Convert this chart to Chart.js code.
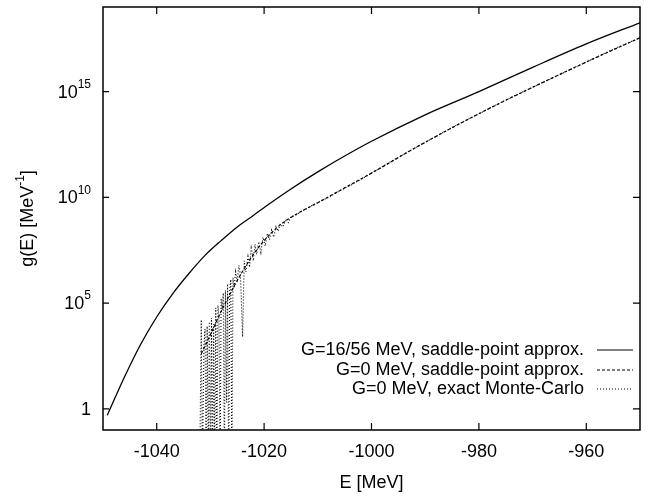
<!DOCTYPE html>
<html>
<head>
<meta charset="utf-8">
<script src="https://cdn.jsdelivr.net/npm/chart.js@4.4.0/dist/chart.umd.min.js"></script>
<style>
    html, body { margin: 0; padding: 0; background: #fff; }
</style>
</head>
<body>
<canvas id="dosChart" width="649" height="499"></canvas>
<script>
// Energy axis ticks and log-axis ticks
const xTicks = [-1040, -1020, -1000, -980, -960];
const yTicks = [1, 1e5, 1e10, 1e15];
const yTickLabels = [['1', ''], ['10', '5'], ['10', '10'], ['10', '15']];

// G=16/56 MeV, saddle-point approx.
const pairingE = [-1049.2, -1046, -1043, -1040, -1037, -1034, -1031, -1028, -1025, -1022, -1019, -1015, -1010, -1005, -1000, -990, -980, -970, -960, -950];
const pairingG = [0.5, 32, 1.1e3, 2.2e4, 2.8e5, 2.5e6, 1.8e7, 9e7, 4e8, 1.4e9, 5e9, 2.5e10, 1.6e11, 9e11, 4.5e12, 8e13, 1e15, 1.4e16, 1.8e17, 1.8e18];

// G=0 MeV, saddle-point approx.
const saddleE = [-1031.7, -1030, -1028, -1026, -1024, -1022, -1020, -1017, -1014, -1010, -1005, -1000, -990, -980, -970, -960, -950];
const saddleG = [4e2, 3.2e3, 4e4, 4e5, 3.2e6, 2e7, 9e7, 5e8, 1.6e9, 5.6e9, 2.8e10, 1.4e11, 4e12, 9e13, 1.6e15, 2.5e16, 3.5e17];

// G=0 MeV, exact Monte-Carlo (empty bins drop below the axis)
const mcE = [-1032.0, -1031.7, -1031.5, -1031.2, -1031.0, -1030.8, -1030.6, -1030.4, -1030.2, -1030.0,
    -1029.8, -1029.6, -1029.4, -1029.2, -1029.0, -1028.8, -1028.6, -1028.4, -1028.2, -1028.0,
    -1027.8, -1027.6, -1027.4, -1027.2, -1027.0, -1026.8, -1026.6, -1026.4, -1026.2, -1026.0,
    -1025.8, -1025.6, -1025.3, -1025.0, -1024.7, -1024.4, -1024.0, -1023.7, -1023.4, -1023.0,
    -1022.7, -1022.4, -1022.0, -1021.7, -1021.4, -1021.0, -1020.6, -1020.2, -1019.8, -1019.4,
    -1019.0, -1018.6, -1018.2, -1017.8, -1017.4, -1017.0, -1016.5, -1016.0, -1015.5, -1015.0,
    -1014.0, -1013.0, -1012.0, -1011.0, -1010.0, -1008.0, -1006.0, -1004.0, -1002.0, -1000.0,
    -995, -990, -985, -980, -975, -970, -965, -960, -955, -950];
const mcG = [1e-3, 1.6e4, 1e-3, 1e3, 6e3, 1e-3, 8e3, 1e-3, 1.3e4, 1e-3,
    2e4, 1e-3, 1e4, 1e-3, 6e4, 1e-3, 8e4, 2.5e4, 1e-3, 1.6e5,
    5e4, 3e5, 1e-3, 4e5, 2, 8e5, 1e-3, 4e5, 1.3e6, 1e-3,
    1.6e6, 5e5, 3e6, 1e6, 6e6, 2e6, 2.5e3, 1e7, 3e6, 1.6e7,
    5e6, 4e7, 1e7, 6e7, 2e7, 8e7, 2.5e7, 1.3e8, 5e7, 2e8,
    1e8, 2.8e8, 1.3e8, 4e8, 2.5e8, 5.6e8, 4e8, 8e8, 6.3e8, 1.2e9,
    1.5e9, 2.2e9, 3e9, 4.2e9, 5.6e9, 1e10, 2e10, 3.6e10, 7e10, 1.4e11,
    8e11, 4e12, 2e13, 9e13, 4e14, 1.6e15, 6.3e15, 2.5e16, 1e17, 3.5e17];

const legendLabels = ['G=16/56 MeV, saddle-point approx.', 'G=0 MeV, saddle-point approx.', 'G=0 MeV, exact Monte-Carlo'];

const FONT = '"Liberation Sans", Arial, Helvetica, sans-serif';
const BIG = '18px ' + FONT;
const SMALL = '12px ' + FONT;

function toPoints(xs, ys) {
    return xs.map((x, i) => ({ x: x, y: ys[i] }));
}

// gnuplot-like frame: box, inward ticks, superscript labels, legend
const framePlugin = {
    id: 'frame',
    afterDraw(chart) {
        const ctx = chart.ctx;
        const area = chart.chartArea;
        const xs = chart.scales.x;
        const ys = chart.scales.y;
        ctx.save();
        ctx.strokeStyle = '#000';
        ctx.fillStyle = '#000';
        ctx.lineWidth = 1.5;
        ctx.strokeRect(area.left, area.top, area.right - area.left, area.bottom - area.top);

        ctx.lineWidth = 1.2;
        ctx.beginPath();
        xTicks.forEach(v => {
            const px = xs.getPixelForValue(v);
            ctx.moveTo(px, area.bottom); ctx.lineTo(px, area.bottom - 7);
            ctx.moveTo(px, area.top); ctx.lineTo(px, area.top + 7);
        });
        yTicks.forEach(v => {
            const py = ys.getPixelForValue(v);
            ctx.moveTo(area.left, py); ctx.lineTo(area.left + 6, py);
            ctx.moveTo(area.right, py); ctx.lineTo(area.right - 7, py);
        });
        ctx.stroke();

        // y tick labels with superscript exponents
        ctx.textBaseline = 'middle';
        ctx.textAlign = 'right';
        yTicks.forEach((v, i) => {
            const py = ys.getPixelForValue(v) + 1;
            const [base, exp] = yTickLabels[i];
            let right = 91;
            if (exp) {
                ctx.font = SMALL;
                ctx.fillText(exp, right, py - 8);
                right -= ctx.measureText(exp).width;
            }
            ctx.font = BIG;
            ctx.fillText(base, right, py);
        });

        // y axis title, rotated, with superscript
        ctx.save();
        ctx.translate(28, (area.top + area.bottom) / 2);
        ctx.rotate(-Math.PI / 2);
        ctx.textAlign = 'left';
        ctx.font = BIG;
        const t1 = 'g(E) [MeV', t3 = ']';
        const w1 = ctx.measureText(t1).width, w3 = ctx.measureText(t3).width;
        ctx.font = SMALL;
        const t2 = '-1';
        const w2 = ctx.measureText(t2).width;
        let tx = -(w1 + w2 + w3) / 2;
        ctx.font = BIG;
        ctx.fillText(t1, tx, 0);
        tx += w1;
        ctx.font = SMALL;
        ctx.fillText(t2, tx, -7);
        tx += w2;
        ctx.font = BIG;
        ctx.fillText(t3, tx, 0);
        ctx.restore();

        // legend, text right-aligned with line sample to the right
        const rows = [350, 370, 389];
        const dashes = [[], [3, 2], [1, 2]];
        legendLabels.forEach((label, i) => {
            ctx.font = BIG;
            ctx.textAlign = 'right';
            ctx.fillText(label, 584, rows[i]);
            ctx.setLineDash(dashes[i]);
            ctx.lineWidth = 1.2;
            ctx.beginPath();
            ctx.moveTo(597, rows[i]);
            ctx.lineTo(633, rows[i]);
            ctx.stroke();
        });
        ctx.restore();
    }
};

const ctx = document.getElementById('dosChart').getContext('2d');
const chart = new Chart(ctx, {
    type: 'scatter',
    data: {
        datasets: [
            {
                label: legendLabels[0],
                data: toPoints(pairingE, pairingG),
                showLine: true,
                borderColor: '#000',
                borderWidth: 1.3,
                pointRadius: 0,
                cubicInterpolationMode: 'monotone'
            },
            {
                label: legendLabels[1],
                data: toPoints(saddleE, saddleG),
                showLine: true,
                borderColor: '#000',
                borderWidth: 1.2,
                borderDash: [3, 2],
                pointRadius: 0,
                cubicInterpolationMode: 'monotone'
            },
            {
                label: legendLabels[2],
                data: toPoints(mcE, mcG),
                showLine: true,
                borderColor: '#000',
                borderWidth: 1.1,
                borderDash: [1, 2],
                pointRadius: 0,
                tension: 0
            }
        ]
    },
    options: {
        responsive: false,
        devicePixelRatio: 1,
        animation: false,
        layout: { padding: { top: 7, right: 9, left: 0, bottom: 0 } },
        plugins: {
            legend: { display: false },
            tooltip: { enabled: false }
        },
        scales: {
            x: {
                type: 'linear',
                min: -1050,
                max: -950,
                grid: { display: false, drawTicks: false },
                border: { display: false },
                afterBuildTicks: (scale) => { scale.ticks = xTicks.map(v => ({ value: v })); },
                afterFit: (scale) => { scale.height = 69; },
                ticks: {
                    color: '#000',
                    padding: 11,
                    font: { family: FONT, size: 18 },
                    callback: (v) => String(v)
                },
                title: {
                    display: true,
                    text: 'E [MeV]',
                    color: '#000',
                    font: { family: FONT, size: 18 },
                    padding: { top: 0, bottom: 5 }
                }
            },
            y: {
                type: 'logarithmic',
                min: 0.1,
                max: 1e19,
                grid: { display: false, drawTicks: false },
                border: { display: false },
                afterBuildTicks: (scale) => { scale.ticks = yTicks.map(v => ({ value: v })); },
                afterFit: (scale) => { scale.width = 103; },
                ticks: { display: false },
                title: { display: false }
            }
        }
    },
    plugins: [framePlugin]
});
</script>
</body>
</html>
